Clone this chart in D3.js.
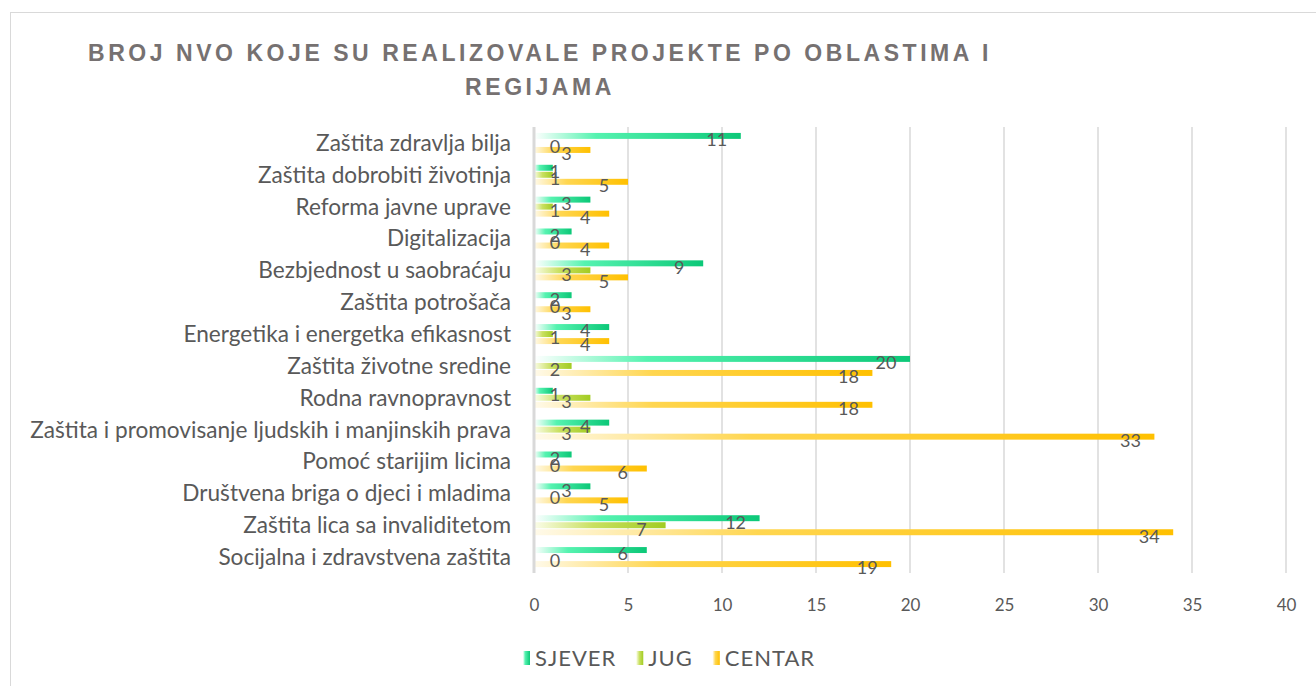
<!DOCTYPE html>
<html>
<head>
<meta charset="utf-8">
<script src="https://cdn.jsdelivr.net/npm/d3@7/dist/d3.min.js"></script>
<style>
  html, body { margin: 0; padding: 0; background: #fff; }
  svg { display: block; }
</style>
</head>
<body>
<svg id="chart" width="1316" height="686"></svg>
<script>
// ---- DATA ----
const categories = [
  "Zaštita zdravlja bilja",
  "Zaštita dobrobiti životinja",
  "Reforma javne uprave",
  "Digitalizacija",
  "Bezbjednost u saobraćaju",
  "Zaštita potrošača",
  "Energetika i energetka efikasnost",
  "Zaštita životne sredine",
  "Rodna ravnopravnost",
  "Zaštita i promovisanje ljudskih i manjinskih prava",
  "Pomoć starijim licima",
  "Društvena briga o djeci i mladima",
  "Zaštita lica sa invaliditetom",
  "Socijalna i zdravstvena zaštita"
];
const seriesNames = ["SJEVER", "JUG", "CENTAR"];
const sjever = [11, 1, 3, 2, 9, 2, 4, 20, 1, 4, 2, 3, 12, 6];
const jug    = [0, 1, 1, 0, 3, 0, 1, 2, 3, 3, 0, 0, 7, 0];
const centar = [3, 5, 4, 4, 5, 3, 4, 18, 18, 33, 6, 5, 34, 19];
const xTicks = [0, 5, 10, 15, 20, 25, 30, 35, 40];
const titleLines = ["BROJ NVO KOJE SU REALIZOVALE PROJEKTE PO OBLASTIMA I", "REGIJAMA"];

const seriesValues = [sjever, jug, centar];
const gradients = [
  [["0%", "#ffffff"], ["30%", "#55f3b0"], ["100%", "#0cc878"]],
  [["0%", "#fbfde9"], ["45%", "#c9e060"], ["100%", "#a2cc22"]],
  [["0%", "#fffaea"], ["35%", "#ffd650"], ["100%", "#ffc000"]]
];

const svg = d3.select("#chart");
const textColor = "#595959";
const font = "Lato, 'Open Sans', sans-serif";

// defs: gradients
const defs = svg.append("defs");
gradients.forEach((stops, i) => {
  const g = defs.append("linearGradient").attr("id", "grad" + i)
    .attr("x1", "0%").attr("x2", "100%").attr("y1", "0%").attr("y2", "0%");
  stops.forEach(s => g.append("stop").attr("offset", s[0]).attr("stop-color", s[1]));
});

// border
svg.append("rect").attr("x", 10.5).attr("y", 12.5).attr("width", 1320).attr("height", 700)
  .attr("fill", "#fff").attr("stroke", "#d9d9d9").attr("stroke-width", 1);

// scales
const x = d3.scaleLinear().domain([0, 40]).range([534, 1286]);
const y0 = d3.scaleBand().domain(categories).range([127, 573])
  .paddingInner(0.372).paddingOuter(0.186);
const y1 = d3.scaleBand().domain(seriesNames).range([0, y0.bandwidth()])
  .paddingInner(0.15).paddingOuter(0);

// gridlines
svg.append("g").selectAll("line").data(xTicks.filter(t => t > 0)).join("line")
  .attr("x1", d => x(d)).attr("x2", d => x(d))
  .attr("y1", 127).attr("y2", 573)
  .attr("stroke", "#d9d9d9").attr("stroke-width", 1.5);

// axis labels (x)
const xAxis = d3.axisBottom(x).tickValues(xTicks).tickSize(0).tickPadding(0);
const gx = svg.append("g").attr("transform", "translate(0,597)").call(xAxis);
gx.select(".domain").remove();
gx.selectAll("text").attr("fill", textColor).attr("font-size", 17)
  .attr("font-family", font).attr("dy", "0.85em");

// bars
const groups = svg.append("g").selectAll("g").data(categories).join("g")
  .attr("transform", d => `translate(0,${y0(d)})`);
groups.each(function(cat, ci) {
  const g = d3.select(this);
  seriesNames.forEach((s, si) => {
    const v = seriesValues[si][ci];
    if (v > 0) {
      g.append("rect")
        .attr("x", x(0)).attr("y", y1(s))
        .attr("width", x(v) - x(0)).attr("height", y1.bandwidth())
        .attr("fill", `url(#grad${si})`);
    }
  });
});

// vertical axis line
svg.append("line").attr("x1", x(0)).attr("x2", x(0)).attr("y1", 127).attr("y2", 573)
  .attr("stroke", "#d9d9d9").attr("stroke-width", 3);

// data labels
groups.each(function(cat, ci) {
  const g = d3.select(this);
  seriesNames.forEach((s, si) => {
    const v = seriesValues[si][ci];
    const cx = Math.max(x(0) + 21, x(v) - 24);
    g.append("text")
      .attr("x", cx).attr("y", y1(s) + y1.bandwidth() / 2 + 4)
      .attr("dy", "0.35em").attr("text-anchor", "middle")
      .attr("font-family", font).attr("font-size", 18).attr("fill", textColor)
      .text(v);
  });
});

// category labels
const catLabels = svg.append("g").selectAll("text").data(categories).join("text")
  .attr("x", 511).attr("y", d => y0(d) + y0.bandwidth() / 2)
  .attr("dy", "0.35em").attr("text-anchor", "end")
  .attr("font-family", font).attr("font-size", 18).attr("fill", textColor)
  .text(d => d);
let maxW = 0;
catLabels.each(function() { maxW = Math.max(maxW, this.getComputedTextLength()); });
catLabels.attr("font-size", 18 * 481 / maxW);

// title
const titleFont = "'Liberation Sans', Arial, sans-serif";
const t1 = svg.append("text").attr("x", 540).attr("y", 61).attr("text-anchor", "middle")
  .attr("font-family", titleFont).attr("font-weight", "bold")
  .attr("font-size", 23).attr("fill", "#767171").attr("letter-spacing", 0)
  .text(titleLines[0]);
const w0 = t1.node().getComputedTextLength();
const ls = Math.max(0, (904 - w0) / titleLines[0].length);
t1.attr("letter-spacing", ls);
svg.append("text").attr("x", 540).attr("y", 95).attr("text-anchor", "middle")
  .attr("font-family", titleFont).attr("font-weight", "bold")
  .attr("font-size", 23).attr("fill", "#767171").attr("letter-spacing", ls)
  .text(titleLines[1]);

// legend
const legend = svg.append("g").attr("transform", "translate(0,658)");
let lx = 523;
seriesNames.forEach((s, i) => {
  legend.append("rect").attr("x", lx).attr("y", -7).attr("width", 7).attr("height", 14)
    .attr("fill", `url(#grad${i})`);
  const t = legend.append("text").attr("x", lx + 12).attr("y", 0).attr("dy", "0.36em")
    .attr("font-family", font).attr("font-size", 22).attr("letter-spacing", 1)
    .attr("fill", textColor).text(s);
  lx += 12 + t.node().getComputedTextLength() + 20;
});
</script>
</body>
</html>
